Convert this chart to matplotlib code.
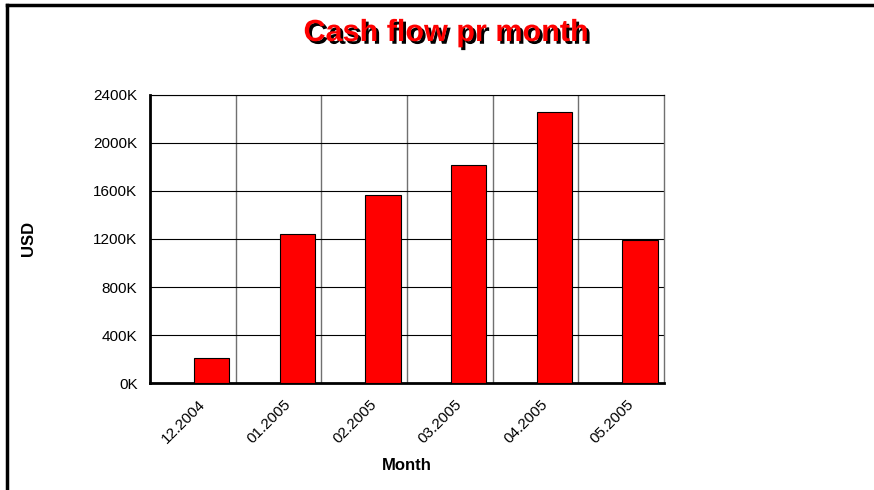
import matplotlib
matplotlib.use('agg')
import matplotlib.pyplot as plt
import matplotlib.patheffects as pe
from matplotlib.lines import Line2D
import numpy as np

plt.rcParams['font.family'] = ['Liberation Sans', 'DejaVu Sans']

months = ['12.2004', '01.2005', '02.2005', '03.2005', '04.2005', '05.2005']
cash_flow_k = [208, 1239, 1567, 1815, 2262, 1192]
y_ticks_k = [0, 400, 800, 1200, 1600, 2000, 2400]

fig = plt.figure(figsize=(8.74, 4.9), dpi=100)
ax = fig.add_axes([150 / 874, 1 - 383 / 490, 514 / 874, 288 / 490])

x = np.arange(len(months))
ax.bar(x + 0.22, cash_flow_k, width=0.41, color='#ff0000',
       edgecolor='black', linewidth=0.8, zorder=3)

ax.set_xlim(-0.5, len(months) - 0.5)
ax.set_ylim(0, 2400)
ax.set_yticks(y_ticks_k)
ax.set_yticklabels([f'{v}K' for v in y_ticks_k], fontsize=11)

# category boundaries as vertical grid
for b in np.arange(0.5, len(months) - 0.5, 1.0):
    ax.axvline(b, color='#707070', linewidth=1.0, zorder=1)
for v in y_ticks_k[1:]:
    ax.axhline(v, color='black', linewidth=0.8, zorder=1)

ax.set_xticks(x + 0.06)
ax.set_xticklabels(months, rotation=45, ha='right', rotation_mode='anchor',
                   fontsize=11)
ax.tick_params(axis='y', length=0, pad=9)
ax.tick_params(axis='x', length=0, pad=10)

ax.spines['left'].set_linewidth(2)
ax.spines['bottom'].set_linewidth(2)
ax.spines['top'].set_linewidth(0.8)
ax.spines['right'].set_linewidth(1)
ax.spines['right'].set_color('#707070')

fig.text(407 / 874, 1 - 465 / 490, 'Month', fontsize=12, fontweight='bold',
         ha='center', va='center')
fig.text(29 / 874, 1 - 238 / 490, 'USD', rotation=90, fontsize=12,
         fontweight='bold', ha='center', va='center')

fig.text(446 / 874, 1 - 33 / 490, 'Cash flow pr month', fontsize=22,
         fontweight='bold', color='#ff0000', ha='center', va='center',
         path_effects=[pe.SimplePatchShadow(offset=(2, -2),
                                            shadow_rgbFace='black', alpha=1),
                       pe.Normal()])

# frame around the image (top and left only)
fig.add_artist(Line2D([6.5 / 874, 1], [1 - 5 / 490, 1 - 5 / 490],
                      transform=fig.transFigure, color='black', linewidth=2.5))
fig.add_artist(Line2D([6.5 / 874, 6.5 / 874], [0, 1 - 5 / 490],
                      transform=fig.transFigure, color='black', linewidth=2.5))

fig.savefig('out.png', dpi=100, facecolor='white')
